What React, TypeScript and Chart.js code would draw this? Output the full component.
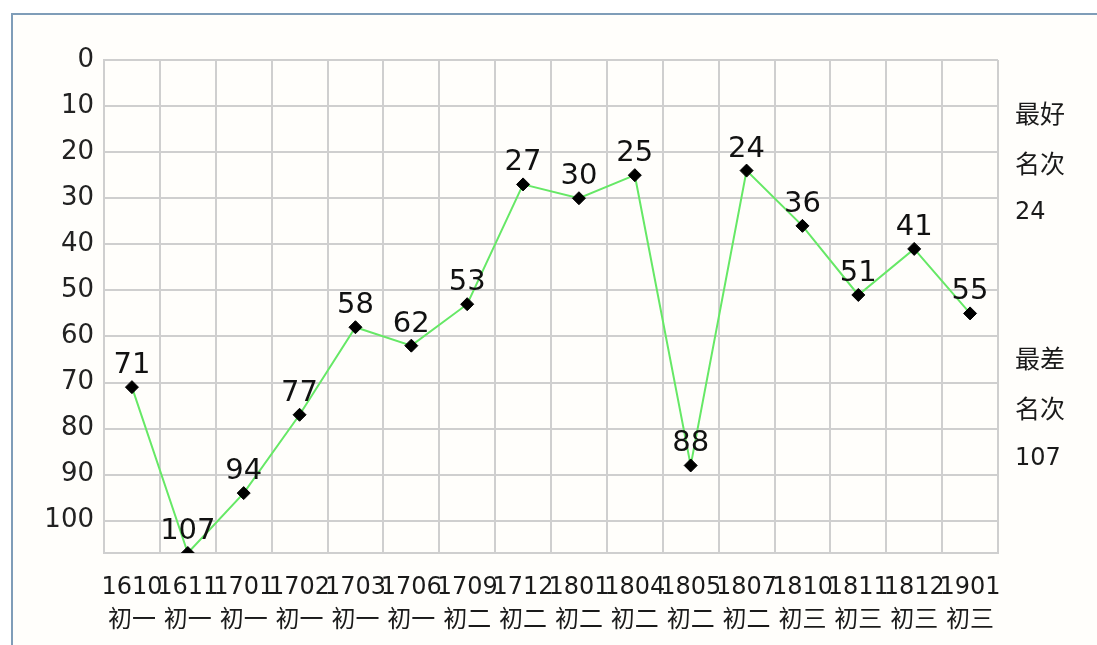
import React, { useEffect, useRef } from "react";
import { Chart, registerables } from "chart.js";

Chart.register(...registerables);

const periods = ["1610", "1611", "1701", "1702", "1703", "1706", "1709", "1712", "1801", "1804", "1805", "1807", "1810", "1811", "1812", "1901"];
const grades = ["初一", "初一", "初一", "初一", "初一", "初一", "初二", "初二", "初二", "初二", "初二", "初二", "初三", "初三", "初三", "初三"];
const ranks = [71, 107, 94, 77, 58, 62, 53, 27, 30, 25, 88, 24, 36, 51, 41, 55];
const yTicks = [0, 10, 20, 30, 40, 50, 60, 70, 80, 90, 100];
const bestLabel = ["最好", "名次"];
const worstLabel = ["最差", "名次"];

const FONT = "'DejaVu Sans', 'Noto Sans CJK SC', sans-serif";
const CJK = "'Noto Sans CJK SC', 'DejaVu Sans', sans-serif";

export default function App() {
  const ref = useRef<HTMLCanvasElement | null>(null);

  useEffect(() => {
    const canvas = ref.current;
    if (!canvas) return;

    const labelPlugin = {
      id: "pointLabels",
      afterDatasetsDraw(chart: any) {
        const ctx = chart.ctx;
        const meta = chart.getDatasetMeta(0);
        ctx.save();
        ctx.font = `29px ${FONT}`;
        ctx.fillStyle = "#111";
        ctx.textAlign = "center";
        ctx.textBaseline = "bottom";
        meta.data.forEach((pt: any, i: number) => {
          ctx.fillText(String(ranks[i]), pt.x, pt.y - 7);
        });
        ctx.restore();
      },
    };

    const sidePlugin = {
      id: "sideText",
      afterDraw(chart: any) {
        const ctx = chart.ctx;
        const x = chart.chartArea.right + 17;
        ctx.save();
        ctx.fillStyle = "#1a1a1a";
        ctx.textAlign = "left";
        ctx.textBaseline = "middle";
        const best = Math.min(...ranks);
        const worst = Math.max(...ranks);
        ctx.font = `25px ${CJK}`;
        ctx.fillText(bestLabel[0], x, 113);
        ctx.fillText(bestLabel[1], x, 163);
        ctx.font = `24px ${FONT}`;
        ctx.fillText(String(best), x, 213);
        ctx.font = `25px ${CJK}`;
        ctx.fillText(worstLabel[0], x, 358);
        ctx.fillText(worstLabel[1], x, 408);
        ctx.font = `24px ${FONT}`;
        ctx.fillText(String(worst), x, 459);
        ctx.restore();
      },
    };

    const chart = new Chart(canvas, {
      type: "line",
      data: {
        labels: periods.map((p, i) => [p, grades[i]]),
        datasets: [
          {
            data: ranks,
            borderColor: "#66e866",
            borderWidth: 2,
            pointStyle: "rectRot",
            pointRadius: 6.5,
            pointBackgroundColor: "#000",
            pointBorderColor: "#000",
            pointBorderWidth: 1,
            tension: 0,
          },
        ],
      },
      options: {
        responsive: false,
        animation: false,
        devicePixelRatio: 1,
        layout: { padding: { left: 0, top: 60, right: 99, bottom: 0 } },
        plugins: {
          legend: { display: false },
          tooltip: { enabled: false },
        },
        scales: {
          x: {
            offset: true,
            grid: { offset: true, color: "#cfcfcf", lineWidth: 2, drawTicks: false },
            border: { display: true, color: "#cfcfcf", width: 2 },
            ticks: {
              autoSkip: false,
              maxRotation: 0,
              minRotation: 0,
              padding: 19,
              color: "#1a1a1a",
              font: { family: FONT, size: 24, lineHeight: 1.35 },
            },
            afterFit(scale: any) {
              scale.height = 92;
            },
          },
          y: {
            reverse: true,
            min: 0,
            max: 107,
            afterBuildTicks(scale: any) {
              scale.ticks = yTicks.map((v) => ({ value: v }));
            },
            grid: { color: "#cfcfcf", lineWidth: 2, drawTicks: false },
            border: { display: true, color: "#cfcfcf", width: 2 },
            ticks: {
              padding: 10,
              color: "#222",
              font: { family: FONT, size: 26 },
            },
            afterFit(scale: any) {
              scale.width = 104;
            },
          },
        },
      },
      plugins: [labelPlugin, sidePlugin],
    });

    return () => chart.destroy();
  }, []);

  return (
    <div style={{ position: "absolute", left: 0, top: 0, width: 1097, height: 645, background: "#fff", overflow: "hidden" }}>
      <div
        style={{
          position: "absolute",
          left: 11,
          top: 13,
          width: 1097,
          height: 645,
          borderTop: "2px solid #7f9db8",
          borderLeft: "2px solid #7f9db8",
          background: "#fffefb",
        }}
      />
      <canvas ref={ref} width={1097} height={645} style={{ position: "absolute", left: 0, top: 0 }} />
    </div>
  );
}
